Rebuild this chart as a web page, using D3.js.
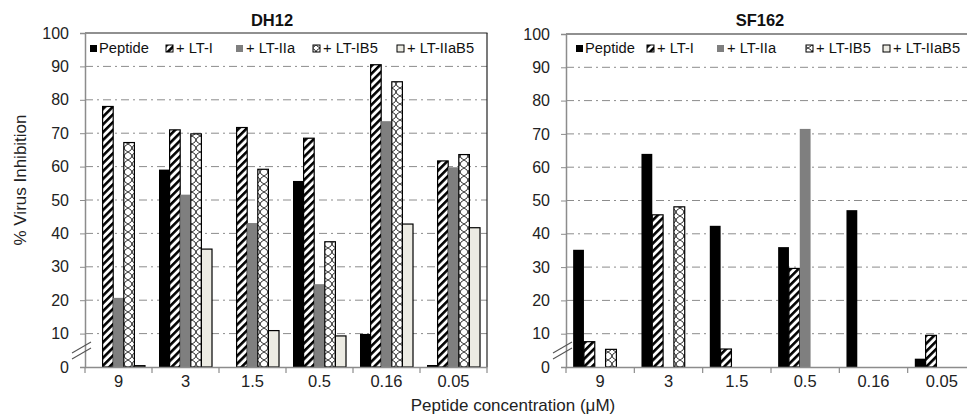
<!DOCTYPE html>
<html><head><meta charset="utf-8">
<script src="https://cdn.jsdelivr.net/npm/d3@7/dist/d3.min.js"></script>
<style>
html,body{margin:0;padding:0;background:#fff;}
svg{display:block;font-family:"Liberation Sans",Arial,sans-serif;}
</style></head>
<body>
<svg id="chart" width="967" height="417"></svg>
<script>
const categories = ["9", "3", "1.5", "0.5", "0.16", "0.05"];
const seriesNames = ["Peptide", "+ LT-I", "+ LT-IIa", "+ LT-IB5", "+ LT-IIaB5"];
const yTicks = [0, 10, 20, 30, 40, 50, 60, 70, 80, 90, 100];

const dh12Peptide  = [0, 59.1, 0, 55.7, 9.9, 0.6];
const dh12LTI      = [78.0, 71.0, 71.7, 68.5, 90.5, 61.7];
const dh12LTIIa    = [20.7, 51.6, 43.1, 24.8, 73.6, 59.8];
const dh12LTIB5    = [67.2, 69.8, 59.2, 37.5, 85.4, 63.6];
const dh12LTIIaB5  = [0.4, 35.3, 10.9, 9.3, 42.8, 41.7];

const sf162Peptide = [35.2, 64.0, 42.4, 36.0, 47.1, 2.5];
const sf162LTI     = [7.6, 45.7, 5.4, 29.6, 0, 9.5];
const sf162LTIIa   = [0, 0, 0, 71.5, 0, 0];
const sf162LTIB5   = [5.3, 48.1, 0, 0, 0, 0];
const sf162LTIIaB5 = [0, 0, 0, 0, 0, 0];

const svg = d3.select("#chart");
const defs = svg.append("defs");

// diagonal stripes for LT-I
const p1 = defs.append("pattern").attr("id","stripes").attr("patternUnits","userSpaceOnUse")
  .attr("width",5.5).attr("height",5.5).attr("patternTransform","rotate(45)");
p1.append("rect").attr("width",5.5).attr("height",5.5).attr("fill","#fff");
p1.append("rect").attr("width",2.6).attr("height",5.5).attr("fill","#000");

// wave / zigzag for LT-IB5
const p2 = defs.append("pattern").attr("id","waves").attr("patternUnits","userSpaceOnUse")
  .attr("width",8).attr("height",8);
p2.append("rect").attr("width",8).attr("height",8).attr("fill","#fff");
p2.append("path").attr("d","M0,0 Q4,2 4,4 Q4,6 8,8 M8,0 Q4,2 4,4 Q4,6 0,8")
  .attr("fill","none").attr("stroke","#000").attr("stroke-width",0.8);

const fills = ["#000000", "url(#stripes)", "#7f7f7f", "url(#waves)", "#ecebe3"];
const strokes = ["none", "#000", "none", "#000", "#000"];

function panel(cfg) {
  const g = svg.append("g");
  const x = d3.scaleBand().domain(categories).range([cfg.x0, cfg.x1]).paddingInner(0).paddingOuter(0);
  const xs = d3.scaleBand().domain(d3.range(seriesNames.length)).range([0, x.bandwidth()]).paddingInner(0).paddingOuter(0.66);
  const y = d3.scaleLinear().domain([0, 100]).range([cfg.y0, cfg.y1]);

  // gridlines
  g.append("g").selectAll("line").data(yTicks.filter(d => d > 0 && d < 100)).join("line")
    .attr("x1", cfg.x0).attr("x2", cfg.x1).attr("y1", d => y(d)).attr("y2", d => y(d))
    .attr("stroke", "#8c8c8c").attr("stroke-width", 1).attr("stroke-dasharray", "8,4,2,4");

  // frame top / right
  g.append("line").attr("x1", cfg.x0).attr("x2", cfg.x1 + 0.5).attr("y1", y(100)).attr("y2", y(100))
    .attr("stroke", "#222").attr("stroke-width", 1.2);
  g.append("line").attr("x1", cfg.x1).attr("x2", cfg.x1).attr("y1", y(100)).attr("y2", y(0))
    .attr("stroke", "#222").attr("stroke-width", 1.2);

  // bars
  cfg.series.forEach((vals, si) => {
    g.append("g").selectAll("rect").data(vals.map((v, i) => ({v, c: categories[i]})).filter(d => d.v > 0)).join("rect")
      .attr("x", d => x(d.c) + xs(si))
      .attr("width", xs.bandwidth())
      .attr("y", d => y(d.v))
      .attr("height", d => y(0) - y(d.v))
      .attr("fill", fills[si])
      .attr("stroke", strokes[si]).attr("stroke-width", 1.2);
  });

  // y axis
  const ya = g.append("g").attr("transform", `translate(${cfg.x0},0)`)
    .call(d3.axisLeft(y).tickValues(yTicks).tickSize(5).tickPadding(11).tickFormat(d3.format("d")));
  ya.select(".domain").attr("stroke", "#8c8c8c").attr("stroke-width", 1.5);
  ya.selectAll(".tick line").attr("stroke", "#8c8c8c");
  ya.selectAll("text").attr("font-size", 16).attr("fill", "#222").attr("font-family", "Liberation Sans, Arial, sans-serif");

  // x axis
  const xa = g.append("g").attr("transform", `translate(0,${cfg.y0})`)
    .call(d3.axisBottom(x).tickSize(0).tickPadding(8));
  xa.select(".domain").attr("stroke", "#8c8c8c").attr("stroke-width", 1.5);
  xa.selectAll("text").attr("font-size", 16.5).attr("fill", "#222").attr("font-family", "Liberation Sans, Arial, sans-serif");
  xa.append("g").selectAll("line").data(categories.concat(["end"])).join("line")
    .attr("x1", (d, i) => cfg.x0 + i * x.step()).attr("x2", (d, i) => cfg.x0 + i * x.step())
    .attr("y1", 0).attr("y2", 6).attr("stroke", "#8c8c8c").attr("stroke-width", 1.2);

  // axis break
  const bg = g.append("g");
  [[0, 0], [0, -6]].forEach(o => {
    bg.append("line").attr("x1", cfg.x0 - 13).attr("y1", y(4.5) + 7 + o[1])
      .attr("x2", cfg.x0 + 6).attr("y2", y(4.5) - 4 + o[1])
      .attr("stroke", "#555").attr("stroke-width", 1.1);
  });

  // title
  g.append("text").attr("x", cfg.titleX).attr("y", 26).attr("text-anchor", "middle")
    .attr("font-size", 16.5).attr("font-weight", "bold").attr("fill", "#111").text(cfg.title);

  // legend
  const lg = g.append("g");
  seriesNames.forEach((n, i) => {
    const lx = cfg.legendX[i];
    lg.append("rect").attr("x", lx).attr("y", 45).attr("width", 7).attr("height", 7)
      .attr("fill", fills[i]).attr("stroke", i === 0 || i === 2 ? "none" : "#000").attr("stroke-width", 1);
    lg.append("text").attr("x", lx + (i === 0 ? 9 : 10)).attr("y", 52.5).attr("font-size", 14.7).attr("fill", "#111").text(n);
  });
}

panel({
  title: "DH12", titleX: 272, x0: 85, x1: 487, y0: 367, y1: 33,
  legendX: [90, 166, 236, 313, 397],
  series: [dh12Peptide, dh12LTI, dh12LTIIa, dh12LTIB5, dh12LTIIaB5]
});
panel({
  title: "SF162", titleX: 760, x0: 566, x1: 976, y0: 367, y1: 34,
  legendX: [576, 647, 717, 806, 883],
  series: [sf162Peptide, sf162LTI, sf162LTIIa, sf162LTIB5, sf162LTIIaB5]
});

// axis titles
svg.append("text").attr("x", 513).attr("y", 411).attr("text-anchor", "middle")
  .attr("font-size", 17).attr("fill", "#222").text("Peptide concentration (μM)");
svg.append("text").attr("transform", "translate(26,180) rotate(-90)").attr("text-anchor", "middle")
  .attr("font-size", 17).attr("fill", "#222").text("% Virus Inhibition");
</script>
</body></html>
